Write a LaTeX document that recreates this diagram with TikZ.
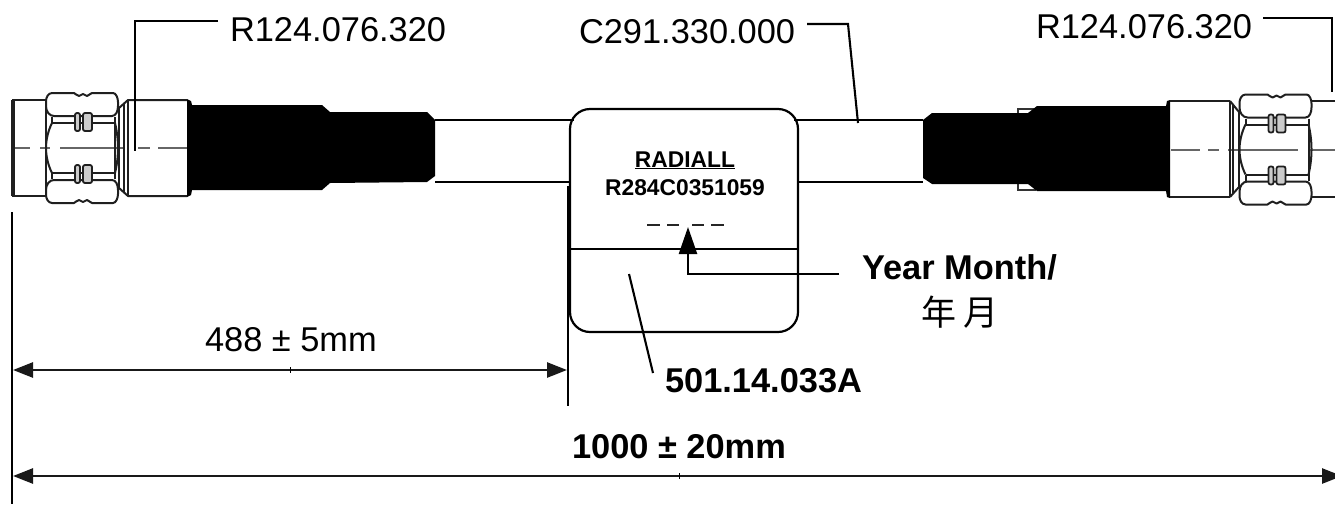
\documentclass[tikz,border=0pt]{standalone}
\usepackage{fontspec}
\setmainfont{Liberation Sans}
\newfontfamily\cjkfont{Noto Sans CJK SC}
\usetikzlibrary{arrows.meta}
\tikzset{
  x=1pt,y=-1pt,
  part/.style={line width=2pt,black!88,line join=round},
  thinpart/.style={line width=1.4pt,black!80},
  centerline/.style={line width=1.1pt,black!60},
  leader/.style={line width=2.1pt,black},
  dimline/.style={line width=2.6pt,black!90,{Triangle[length=20pt,width=15pt]}-{Triangle[length=20pt,width=15pt]}},
  ext/.style={line width=2.1pt,black},
  lbl/.style={inner sep=0pt,outer sep=0pt,anchor=base west,font=\fontsize{34.4}{36}\selectfont},
  lblb/.style={lbl,font=\fontsize{34.4}{36}\selectfont\bfseries},
  small/.style={inner sep=0pt,outer sep=0pt,anchor=base,font=\fontsize{22.8}{24}\selectfont\bfseries},
  ring/.style={line width=1.8pt,black!88,fill=black!20,rounded corners=2pt},
}
\newcommand{\nuthalf}{%
  \draw[part,fill=white] (-28,-32) .. controls (-33,-32) and (-36,-37) .. (-36,-42) -- (-36,-47)
    .. controls (-36,-50) and (-34,-55) .. (-30,-55) -- (-8,-55)
    .. controls (-6,-55) and (-6,-52) .. (-3,-52) .. controls (-1,-52) and (-1,-54) .. (1,-54)
    .. controls (3,-54) and (3,-52) .. (5,-52) .. controls (7,-52) and (8,-55) .. (10,-55)
    -- (31,-55) .. controls (34,-55) and (36,-50) .. (36,-46) -- (36,-42)
    .. controls (36,-37) and (34,-32) .. (30,-32) -- cycle;
  \draw[part] (-30,-25) -- (33,-25);
  \draw[part] (-30,-31) -- (-30,-25);
  \draw[part] (33,-31) -- (33,-25);
  \draw[part] (-30,-25) .. controls (-34,-17) and (-36,-8) .. (-36,0);
  \draw[part] (33,-25) .. controls (35,-17) and (36,-8) .. (36,0);
  \draw[part] (33,-25) -- (33,0);
  \draw[ring] (-7,-35) rectangle (-2,-17);
  \draw[ring] (1,-35) rectangle (10,-17);
}
\begin{document}
\begin{tikzpicture}
\useasboundingbox (0,0) rectangle (1335,504);
\fill[white] (0,0) rectangle (1335,504);

% ---- centre lines
\draw[centerline] (12,148) -- (30,148) (40,148) -- (50,148) (60,148) -- (125,148) (138,148) -- (150,148) (158,148) -- (187,148);
\draw[centerline] (1171,150) -- (1200,150) (1208,150) -- (1219,150) (1228,150) -- (1298,150) (1310,150) -- (1335,150);

% ---- left connector
\draw[part] (12,100) -- (46,100);
\draw[part] (12,196) -- (46,196);
\draw[line width=3.4pt,black!88,rounded corners=1pt] (13,100) -- (13,196);
\draw[part] (46,100) -- (46,196);
\begin{scope}[shift={(82,148)}]
  \nuthalf
  \begin{scope}[yscale=-1]\nuthalf\end{scope}
\end{scope}
\draw[part] (119,108) -- (128,100) -- (187,100);
\draw[part] (119,188) -- (128,196) -- (187,196);
\draw[part] (119,108) -- (119,188);
\draw[part] (124,104) -- (124,192);
\draw[part] (128,100) -- (128,196);
\fill[black] (187,99) -- (191,101) -- (192,105) -- (322,105) -- (330,112) -- (427,112) -- (435,120)
  -- (435,176) -- (427,182) -- (330,183) -- (322,190) -- (192,190) -- (191,195) -- (187,197) -- cycle;

% ---- right connector
\draw[thinpart] (1036,109) -- (1018,109) -- (1018,113);
\draw[thinpart] (1036,190) -- (1018,190) -- (1018,184);
\fill[black] (923,120) -- (932,113) -- (1028,113) -- (1037,106) -- (1166,106) -- (1167,101) -- (1170,100)
  -- (1170,198) -- (1167,197) -- (1166,191) -- (1037,191) -- (1028,184) -- (932,184) -- (923,178) -- cycle;
\draw[part] (1170,101) -- (1230,101);
\draw[part] (1170,197) -- (1230,197);
\draw[part] (1230,101) -- (1239,112);
\draw[part] (1230,197) -- (1239,187);
\draw[part] (1230,101) -- (1230,197);
\draw[part] (1233,105) -- (1233,193);
\draw[part] (1239,112) -- (1239,187);
\begin{scope}[shift={(1275.5,149.5)}]
  \nuthalf
  \begin{scope}[yscale=-1]\nuthalf\end{scope}
\end{scope}
\draw[part] (1312,101) -- (1335,101);
\draw[part] (1312,197) -- (1335,197);

% ---- label box and cable
\node[draw=black,line width=2.2pt,rounded corners=20pt,minimum width=228pt,minimum height=223pt,inner sep=0pt] (box) at (684,220.5) {};
\coordinate (cLa) at (435,120);
\coordinate (cLb) at (435,182);
\coordinate (cRa) at (923,120);
\coordinate (cRb) at (923,182);
\coordinate (bLa) at (574,120);
\coordinate (bLb) at (570,182);
\coordinate (bRa) at (794,120);
\coordinate (bRb) at (798,182);
\draw[leader] (cLa) -- (bLa);
\draw[leader] (cLb) -- (bLb);
\draw[leader] (bRa) -- (cRa);
\draw[leader] (bRb) -- (cRb);
\coordinate (divL) at (570,249);
\coordinate (divR) at (798,249);
\draw[leader] (divL) -- (divR);

\node[small] (radiall) at (685,167) {\underline{RADIALL}};
\node[small] (serial) at (685,195) {R284C0351059};
\draw[line width=1.2pt,black!85] (647,225) -- (660,225) (667,225) -- (679,225) (692,225) -- (704,225) (711,225) -- (724,225);

% ---- top labels
\node[lbl] (lblA) at (230,41) {R124.076.320};
\node[lbl] (lblC) at (579,43) {C291.330.000};
\node[lbl] (lblB) at (1036,38) {R124.076.320};
\coordinate (lA1) at (218,21);
\coordinate (lA2) at (135,21);
\coordinate (lA3) at (135,151);
\draw[leader] (lA1) -- (lA2) -- (lA3);
\coordinate (lC1) at (807,24);
\coordinate (lC2) at (848,24);
\coordinate (lC3) at (858,123);
\draw[leader] (lC1) -- (lC2) -- (lC3);
\coordinate (lB1) at (1263,18);
\coordinate (lB2) at (1332,18);
\coordinate (lB3) at (1332,92);
\draw[leader] (lB1) -- (lB2) -- (lB3);

% ---- year/month
\node[lblb] (lblY) at (862,279) {Year Month/};
\node[lbl,font=\fontsize{35}{36}\cjkfont] (lblCJK) at (921,325) {年 月};
\coordinate (yStart) at (839,274);
\coordinate (yBend) at (688,274);
\coordinate (yTip) at (688,227);
\draw[line width=2.4pt,black,-{Triangle[length=27pt,width=18pt]}] (yStart) -- (yBend) -- (yTip);

% ---- part number leader
\node[lblb] (lblP) at (665,392) {501.14.033A};
\coordinate (p1) at (629,274);
\coordinate (p2) at (653,373);
\draw[leader] (p1) -- (p2);

% ---- dimensions
\coordinate (eL1) at (12,212);
\coordinate (eL2) at (12,504);
\coordinate (eM1) at (568,186);
\coordinate (eM2) at (568,406);
\draw[ext] (eL1) -- (eL2);
\draw[ext] (eM1) -- (eM2);
\coordinate (d1a) at (13,370);
\coordinate (d1b) at (567,370);
\coordinate (d2a) at (13,476);
\coordinate (d2b) at (1342,476);
\draw[dimline] (d1a) -- (d1b);
\draw[dimline] (d2a) -- (d2b);
\draw[line width=1pt] (290,367) -- (290,373);
\draw[line width=1pt] (679,473) -- (679,479);
\node[lbl] (lblD1) at (205,351) {488 ± 5mm};
\node[lblb] (lblD2) at (572,458) {1000 ± 20mm};
\end{tikzpicture}
\end{document}
